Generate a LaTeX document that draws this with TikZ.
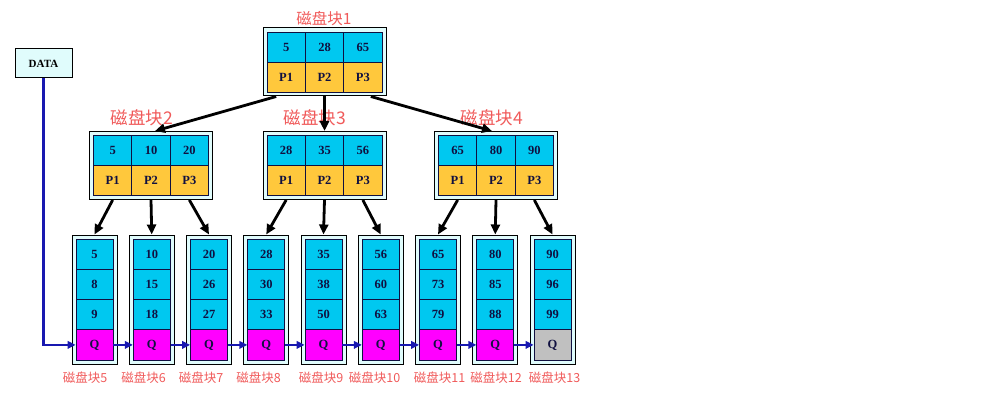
\documentclass[tikz,border=0pt]{standalone}
\usepackage{fontspec}
\setmainfont{Liberation Serif}
\newfontfamily\cjk{Noto Sans CJK SC}
\usetikzlibrary{arrows.meta}
\definecolor{keyblue}{RGB}{0,200,240}
\definecolor{ptryellow}{RGB}{255,200,60}
\definecolor{qmagenta}{RGB}{255,0,255}
\definecolor{qgray}{RGB}{192,192,192}
\definecolor{framecyan}{RGB}{224,252,252}
\definecolor{labelred}{RGB}{240,90,90}
\definecolor{linkblue}{RGB}{24,24,176}
\definecolor{textnavy}{RGB}{16,16,64}
\begin{document}
\begin{tikzpicture}[x=1pt, y=-1pt,
    frame/.style={draw=black, line width=1pt, fill=framecyan, inner sep=0pt},
    cell/.style={draw=textnavy, line width=0.8pt, inner sep=0pt, text=textnavy,
        font=\fontsize{12.5}{13}\selectfont\bfseries},
    tree/.style={line width=2.8pt, -{Triangle[length=10pt,width=9pt]}},
    link/.style={linkblue, line width=2.8pt, -{Triangle[length=8pt,width=7.5pt]}},
    lbl/.style={labelred, inner sep=0pt, font=\cjk\fontsize{12.5}{13}\selectfont},
    toplbl/.style={labelred, inner sep=0pt, font=\cjk\fontsize{17.5}{18}\selectfont}]
    \useasboundingbox (0,0) rectangle (998,406);
    % index blocks: two rows of three cells inside a frame
    \foreach \b/\cx/\cy/\ka/\kb/\kc in {1/324.5/62/5/28/65, 2/151/165.5/5/10/20,
        3/324.5/165.5/28/35/56, 4/496/165.5/65/80/90} {
        \node[frame, minimum width=123pt, minimum height=68pt] (b\b) at (\cx,\cy) {};
        \node[cell, fill=keyblue, minimum width=38.33pt, minimum height=30pt] (b\b-k1) at (\cx-38.33,\cy-15) {\ka};
        \node[cell, fill=keyblue, minimum width=38.33pt, minimum height=30pt] (b\b-k2) at (\cx,\cy-15) {\kb};
        \node[cell, fill=keyblue, minimum width=38.33pt, minimum height=30pt] (b\b-k3) at (\cx+38.33,\cy-15) {\kc};
        \node[cell, fill=ptryellow, minimum width=38.33pt, minimum height=30pt] (b\b-p1) at (\cx-38.33,\cy+15) {P1};
        \node[cell, fill=ptryellow, minimum width=38.33pt, minimum height=30pt] (b\b-p2) at (\cx,\cy+15) {P2};
        \node[cell, fill=ptryellow, minimum width=38.33pt, minimum height=30pt] (b\b-p3) at (\cx+38.33,\cy+15) {P3};
    }
    \node[toplbl, font=\cjk\fontsize{15.5}{16}\selectfont] (lbl1) at (324,19) {磁盘块1};
    \node[toplbl] (lbl2) at (142,118) {磁盘块2};
    \node[toplbl] (lbl3) at (315,118) {磁盘块3};
    \node[toplbl] (lbl4) at (492,118) {磁盘块4};
    % leaf blocks: three keys and a link cell
    \foreach \i/\ka/\kb/\kc/\qc [count=\n from 0] in {5/5/8/9/qmagenta, 6/10/15/18/qmagenta,
        7/20/26/27/qmagenta, 8/28/30/33/qmagenta, 9/35/38/50/qmagenta, 10/56/60/63/qmagenta,
        11/65/73/79/qmagenta, 12/80/85/88/qmagenta, 13/90/96/99/qgray} {
        \pgfmathsetmacro\lx{94.5+57.25*\n}
        \node[frame, minimum width=45pt, minimum height=129pt] (leaf\i) at (\lx,299.5) {};
        \node[cell, fill=keyblue, minimum width=37pt, minimum height=30.25pt] (leaf\i-k1) at (\lx,254.1) {\ka};
        \node[cell, fill=keyblue, minimum width=37pt, minimum height=30.25pt] (leaf\i-k2) at (\lx,284.4) {\kb};
        \node[cell, fill=keyblue, minimum width=37pt, minimum height=30.25pt] (leaf\i-k3) at (\lx,314.6) {\kc};
        \node[cell, fill=\qc, minimum width=37pt, minimum height=30.25pt] (q\i) at (\lx,344.9) {Q};
    }
    \foreach \i/\lx in {5/85, 6/143.5, 7/201, 8/258.5, 9/321, 10/374.5, 11/439.5, 12/496, 13/554.5}
        \node[lbl] (lbl\i) at (\lx,378) {磁盘块\i};
    % root to second level
    \draw[tree] ([xshift=-10pt]b1-p1.south |- b1.south) -- ([xshift=4pt]b2.north);
    \draw[tree] (b1-p2.south |- b1.south) -- (b3.north);
    \draw[tree] ([xshift=8pt]b1-p3.south |- b1.south) -- ([xshift=-4pt]b4.north);
    % second level to leaves
    \draw[tree] (b2-p1.south |- b2.south) -- (leaf5.north);
    \draw[tree] (b2-p2.south |- b2.south) -- (leaf6.north);
    \draw[tree] (b2-p3.south |- b2.south) -- (leaf7.north);
    \draw[tree] (b3-p1.south |- b3.south) -- (leaf8.north);
    \draw[tree] (b3-p2.south |- b3.south) -- (leaf9.north);
    \draw[tree] (b3-p3.south |- b3.south) -- (leaf10.north);
    \draw[tree] (b4-p1.south |- b4.south) -- (leaf11.north);
    \draw[tree] (b4-p2.south |- b4.south) -- (leaf12.north);
    \draw[tree] (b4-p3.south |- b4.south) -- (leaf13.north);
    % data entry and leaf chain
    \node[draw=black, line width=1pt, fill=framecyan, minimum width=57pt, minimum height=29pt,
        inner sep=0pt, font=\fontsize{11}{12}\selectfont\bfseries] (data) at (43.5,63.5) {DATA};
    \draw[link] (data.south) |- (q5.west);
    \foreach \i [evaluate=\i as \j using int(\i+1)] in {5,...,12}
        \draw[link] (q\i.east) -- (q\j.west);
\end{tikzpicture}
\end{document}
